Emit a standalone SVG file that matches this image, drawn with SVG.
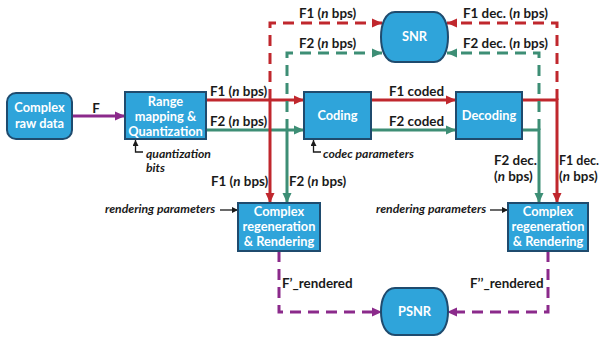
<svg xmlns="http://www.w3.org/2000/svg" width="601" height="343" viewBox="0 0 601 343">
<defs>
<style>
.box{fill:#2FA4DA;stroke:#1F4B6E;stroke-width:2}
.bt{font-family:Lato,"Liberation Sans",sans-serif;font-weight:bold;font-size:12.8px;fill:#fff;text-anchor:middle}
.lb{font-family:Lato,"Liberation Sans",sans-serif;font-weight:bold;font-size:13.4px;fill:#1a1a1a}
.it{font-family:Lato,"Liberation Sans",sans-serif;font-weight:bold;font-style:italic;font-size:12.2px;fill:#1a1a1a}
.r{stroke:#C0272D;stroke-width:3;fill:none}
.g{stroke:#3D8E75;stroke-width:3;fill:none}
.p{stroke:#8B2A8B;stroke-width:3;fill:none}
.k{stroke:#1a1a1a;stroke-width:1.3;fill:none}
.d{stroke-dasharray:11 7}
</style>
<marker id="ar" markerUnits="userSpaceOnUse" markerWidth="10" markerHeight="10" viewBox="0 0 10 10" refX="10" refY="5" orient="auto"><path d="M0,0.5 L10,5 L0,9.5 Z" fill="#C0272D"/></marker>
<marker id="ag" markerUnits="userSpaceOnUse" markerWidth="10" markerHeight="10" viewBox="0 0 10 10" refX="10" refY="5" orient="auto"><path d="M0,0.5 L10,5 L0,9.5 Z" fill="#3D8E75"/></marker>
<marker id="ap" markerUnits="userSpaceOnUse" markerWidth="10" markerHeight="10" viewBox="0 0 10 10" refX="10" refY="5" orient="auto"><path d="M0,0.5 L10,5 L0,9.5 Z" fill="#8B2A8B"/></marker>
<marker id="ak" markerUnits="userSpaceOnUse" markerWidth="6" markerHeight="6" viewBox="0 0 10 10" refX="10" refY="5" orient="auto"><path d="M0,0 L10,5 L0,10 Z" fill="#1a1a1a"/></marker>
</defs>
<rect width="601" height="343" fill="#fff"/>

<g id="connectors">
<path class="p" d="M72,116 H125" marker-end="url(#ap)"/>
<path class="r" d="M206,100 H304" marker-end="url(#ar)"/>
<path class="g" d="M206,130 H304" marker-end="url(#ag)"/>
<path class="r" d="M270,100 V203" marker-end="url(#ar)"/>
<path class="g" d="M287,130 V203" marker-end="url(#ag)"/>
<path class="r d" d="M270,100 V23 H382" marker-end="url(#ar)"/>
<path class="g d" d="M287,130 V53 H382" marker-end="url(#ag)"/>
<path class="r" d="M371,100 H456" marker-end="url(#ar)"/>
<path class="g" d="M371,130 H456" marker-end="url(#ag)"/>
<path class="r" d="M522,100 H557 V203" marker-end="url(#ar)"/>
<path class="g" d="M522,130 H539 V203" marker-end="url(#ag)"/>
<path class="r d" d="M557,100 V23 H447" marker-end="url(#ar)"/>
<path class="g d" d="M539,130 V53 H447" marker-end="url(#ag)"/>
<path class="p d" d="M279,251 V312 H382" marker-end="url(#ap)"/>
<path class="p d" d="M548,251 V312 H447" marker-end="url(#ap)"/>
<path class="k" d="M143,152 H135.5 V140" marker-end="url(#ak)"/>
<path class="k" d="M321,152 H313.5 V140" marker-end="url(#ak)"/>
<path class="k" d="M220,210 H238" marker-end="url(#ak)"/>
<path class="k" d="M490,210 H508" marker-end="url(#ak)"/>
</g>

<g id="labels">
<text class="lb" x="96" y="113" text-anchor="middle">F</text>
<text class="lb" x="210" y="96">F1 (<tspan font-style="italic">n</tspan> bps)</text>
<text class="lb" x="210" y="126">F2 (<tspan font-style="italic">n</tspan> bps)</text>
<text class="lb" x="299" y="18">F1 (<tspan font-style="italic">n</tspan> bps)</text>
<text class="lb" x="299" y="48">F2 (<tspan font-style="italic">n</tspan> bps)</text>
<text class="lb" x="463" y="18">F1 dec. (<tspan font-style="italic">n</tspan> bps)</text>
<text class="lb" x="463" y="48">F2 dec. (<tspan font-style="italic">n</tspan> bps)</text>
<text class="lb" x="389" y="96">F1 coded</text>
<text class="lb" x="389" y="126">F2 coded</text>
<text class="lb" x="211" y="186">F1 (<tspan font-style="italic">n</tspan> bps)</text>
<text class="lb" x="289" y="186">F2 (<tspan font-style="italic">n</tspan> bps)</text>
<text class="lb" x="494" y="165">F2 dec.</text>
<text class="lb" x="494" y="181">(<tspan font-style="italic">n</tspan> bps)</text>
<text class="lb" x="559" y="165" textLength="40" lengthAdjust="spacingAndGlyphs">F1 dec.</text>
<text class="lb" x="559" y="181">(<tspan font-style="italic">n</tspan> bps)</text>
<text class="lb" x="282" y="288">F’_rendered</text>
<text class="lb" x="470" y="288">F’’_rendered</text>
<text class="it" x="146" y="158">quantization</text>
<text class="it" x="146" y="172">bits</text>
<text class="it" x="323" y="158">codec parameters</text>
<text class="it" x="105" y="213">rendering parameters</text>
<text class="it" x="376" y="213">rendering parameters</text>
</g>

<g id="raw">
<rect class="box" x="7" y="93" width="65" height="46" rx="9"/>
<text class="bt" x="39.5" y="112">Complex</text>
<text class="bt" x="39.5" y="128">raw data</text>
</g>
<g id="range">
<rect class="box" x="125" y="92" width="81" height="47"/>
<text class="bt" x="165.5" y="106">Range</text>
<text class="bt" x="165.5" y="121">mapping &amp;</text>
<text class="bt" x="165.5" y="136">Quantization</text>
</g>
<g id="coding">
<rect class="box" x="304" y="92" width="67" height="47"/>
<text class="bt" x="337.5" y="120">Coding</text>
</g>
<g id="decoding">
<rect class="box" x="456" y="92" width="66" height="47"/>
<text class="bt" x="489" y="120">Decoding</text>
</g>
<g id="snr">
<path class="box" d="M395,12 H434 C444,12 448,25 448,37 C448,49 444,62 434,62 H395 C385,62 381,49 381,37 C381,25 385,12 395,12 Z"/>
<text class="bt" x="414.5" y="41" font-size="11.5px">SNR</text>
</g>
<g id="regen1">
<rect class="box" x="238" y="203" width="82" height="48"/>
<text class="bt" x="279" y="216">Complex</text>
<text class="bt" x="279" y="231">regeneration</text>
<text class="bt" x="279" y="246">&amp; Rendering</text>
</g>
<g id="regen2">
<rect class="box" x="508" y="203" width="80" height="48"/>
<text class="bt" x="548" y="216">Complex</text>
<text class="bt" x="548" y="231">regeneration</text>
<text class="bt" x="548" y="246">&amp; Rendering</text>
</g>
<g id="psnr">
<path class="box" d="M395,288 H434 C444,288 448,300 448,311.5 C448,323 444,335 434,335 H395 C385,335 381,323 381,311.5 C381,300 385,288 395,288 Z"/>
<text class="bt" x="414.5" y="316" font-size="11.5px">PSNR</text>
</g>
</svg>
